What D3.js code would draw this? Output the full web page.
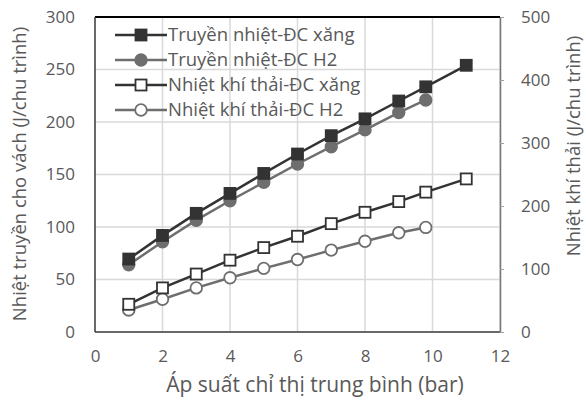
<!DOCTYPE html>
<html>
<head>
<meta charset="utf-8">
<script src="https://cdn.jsdelivr.net/npm/d3@7"></script>
<style>
  body { margin: 0; background: #fff; }
  text { font-family: "Open Sans", "Noto Sans", sans-serif; fill: #595959; }
</style>
</head>
<body>
<svg id="chart" width="586" height="403"></svg>
<script>
// x values (bar)
const xXang = [1, 2, 3, 4, 5, 6, 7, 8, 9, 9.8, 11];
const xH2 = [1, 2, 3, 4, 5, 6, 7, 8, 9, 9.8];

// left axis: heat to wall (J/cycle)
const wallXang = [69.5, 92, 113, 132, 151, 169.5, 187, 203, 220, 233.5, 254];
const wallH2 = [64, 86, 106.5, 125, 142.5, 160, 176.5, 192.5, 209, 221];

// right axis: exhaust heat (J/cycle)
const exhXang = [44, 70, 92, 114, 134, 152, 172, 190, 207, 222, 243];
const exhH2 = [35, 52, 70, 86, 101, 115, 130, 144, 157.5, 166];

const leftTicks = [0, 50, 100, 150, 200, 250, 300];
const rightTicks = [0, 100, 200, 300, 400, 500];
const xTicks = [0, 2, 4, 6, 8, 10, 12];

const legendNames = ['Truyền nhiệt-ĐC xăng', 'Truyền nhiệt-ĐC H2', 'Nhiệt khí thải-ĐC xăng', 'Nhiệt khí thải-ĐC H2'];

const svg = d3.select('#chart');
const margin = { top: 17, right: 86, bottom: 71, left: 95 };
const W = 586 - margin.left - margin.right;
const H = 403 - margin.top - margin.bottom;

const x = d3.scaleLinear().domain([0, 12]).range([0, W]);
const yL = d3.scaleLinear().domain([0, 300]).range([H, 0]);
const yR = d3.scaleLinear().domain([0, 500]).range([H, 0]);

const g = svg.append('g').attr('transform', `translate(${margin.left},${margin.top})`);

// gridlines
g.append('g').selectAll('line.h').data(leftTicks).enter().append('line')
  .attr('x1', 0).attr('x2', W)
  .attr('y1', d => yL(d)).attr('y2', d => yL(d))
  .attr('stroke', '#d9d9d9').attr('stroke-width', 1.5);
g.append('g').selectAll('line.v').data(xTicks).enter().append('line')
  .attr('x1', d => x(d)).attr('x2', d => x(d))
  .attr('y1', 0).attr('y2', H)
  .attr('stroke', '#d9d9d9').attr('stroke-width', 1.5);

// frame
g.append('line').attr('x1', 0).attr('x2', W).attr('y1', 0).attr('y2', 0)
  .attr('stroke', '#000').attr('stroke-width', 2);
g.append('line').attr('x1', 0).attr('x2', 0).attr('y1', 0).attr('y2', H)
  .attr('stroke', '#404040').attr('stroke-width', 1.5);
g.append('line').attr('x1', 0).attr('x2', W).attr('y1', H).attr('y2', H)
  .attr('stroke', '#404040').attr('stroke-width', 1.5);

// left axis labels
g.append('g').call(d3.axisLeft(yL).tickValues(leftTicks).tickSize(0).tickPadding(20))
  .call(a => a.select('.domain').remove())
  .selectAll('text').style('font-size', '17px').attr('fill', '#595959');

// right axis
const rAxis = g.append('g').attr('transform', `translate(${W},0)`)
  .call(d3.axisRight(yR).tickValues(rightTicks).tickSize(4).tickSizeOuter(0).tickPadding(17));
rAxis.select('.domain').attr('stroke', '#767676').attr('stroke-width', 1.5);
rAxis.selectAll('.tick line').attr('stroke', '#a0a0a0');
rAxis.selectAll('text').style('font-size', '17px').attr('fill', '#595959');

// bottom axis labels
g.append('g').attr('transform', `translate(0,${H})`)
  .call(d3.axisBottom(x).tickValues(xTicks).tickSize(0).tickPadding(18))
  .call(a => a.select('.domain').remove())
  .selectAll('text').style('font-size', '17px').attr('fill', '#595959');

// axis titles
svg.append('text').attr('x', 315).attr('y', 392)
  .attr('text-anchor', 'middle').style('font-size', '21px')
  .text('Áp suất chỉ thị trung bình (bar)');
svg.append('text').attr('transform', 'translate(26,174) rotate(-90)')
  .attr('text-anchor', 'middle').style('font-size', '18.5px')
  .text('Nhiệt truyền cho vách (J/chu trình)');
svg.append('text').attr('transform', 'translate(580,146) rotate(-90)')
  .attr('text-anchor', 'middle').style('font-size', '18.5px')
  .text('Nhiệt khí thải (J/chu trình)');

const series = [
  { xs: xXang, ys: wallXang, y: yL, color: '#333333', shape: 'square', fill: '#333333' },
  { xs: xH2, ys: wallH2, y: yL, color: '#6e6e6e', shape: 'circle', fill: '#6e6e6e' },
  { xs: xXang, ys: exhXang, y: yR, color: '#333333', shape: 'square', fill: '#ffffff' },
  { xs: xH2, ys: exhH2, y: yR, color: '#6e6e6e', shape: 'circle', fill: '#ffffff' }
];

const drawMarker = (sel, s) => {
  if (s.shape === 'square') {
    sel.append('rect').attr('x', -5.5).attr('y', -5.5).attr('width', 11).attr('height', 11)
      .attr('fill', s.fill).attr('stroke', s.color).attr('stroke-width', 1.8);
  } else {
    sel.append('circle').attr('r', 5.8)
      .attr('fill', s.fill).attr('stroke', s.color).attr('stroke-width', 1.8);
  }
};

// draw in reverse so wall series are on top
series.slice().reverse().forEach(s => {
  const pts = s.xs.map((xv, i) => [xv, s.ys[i]]);
  g.append('path').datum(pts)
    .attr('fill', 'none').attr('stroke', s.color).attr('stroke-width', 2.5)
    .attr('d', d3.line().x(d => x(d[0])).y(d => s.y(d[1])));
  g.append('g').selectAll('g').data(pts).enter().append('g')
    .attr('transform', d => `translate(${x(d[0])},${s.y(d[1])})`)
    .each(function () { drawMarker(d3.select(this), s); });
});

// legend
const leg = svg.append('g');
series.forEach((s, i) => {
  const row = leg.append('g').attr('transform', `translate(115,${35 + i * 25})`);
  row.append('line').attr('x1', 0).attr('x2', 52).attr('stroke', s.color).attr('stroke-width', 2.5);
  drawMarker(row.append('g').attr('transform', 'translate(26,0)'), s);
  row.append('text').attr('x', 53).attr('dy', '0.35em').style('font-size', '18.5px')
    .text(legendNames[i]);
});
</script>
</body>
</html>
